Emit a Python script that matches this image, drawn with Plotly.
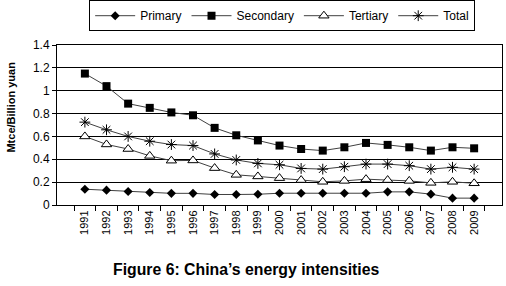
import plotly.graph_objects as go

years = [str(y) for y in range(1991, 2010)]
primary = [0.138, 0.130, 0.118, 0.110, 0.102, 0.102, 0.092, 0.092, 0.094, 0.103, 0.103, 0.103, 0.103, 0.103,
           0.115, 0.115, 0.095, 0.060, 0.060]
secondary = [1.15, 1.04, 0.887, 0.85, 0.81, 0.785, 0.675, 0.61, 0.565, 0.52, 0.49, 0.476, 0.505, 0.543,
             0.526, 0.505, 0.476, 0.505, 0.496]
tertiary = [0.60, 0.53, 0.49, 0.43, 0.388, 0.39, 0.323, 0.264, 0.25, 0.235, 0.218, 0.203, 0.211, 0.226,
            0.218, 0.211, 0.194, 0.203, 0.19]
total = [0.725, 0.658, 0.60, 0.558, 0.529, 0.52, 0.447, 0.394, 0.364, 0.352, 0.32, 0.314, 0.335, 0.358,
         0.358, 0.344, 0.314, 0.33, 0.314]

fig = go.Figure()
line = dict(color="#404040", width=1)
fig.add_trace(go.Scatter(x=years, y=primary, name="Primary", mode="lines+markers", line=line,
                         marker=dict(symbol="diamond", size=7, color="black")))
fig.add_trace(go.Scatter(x=years, y=secondary, name="Secondary", mode="lines+markers", line=line,
                         marker=dict(symbol="square", size=8, color="black")))
fig.add_trace(go.Scatter(x=years, y=tertiary, name="Tertiary", mode="lines+markers", line=line,
                         marker=dict(symbol="triangle-up", size=9, color="white",
                                     line=dict(color="black", width=1))))
fig.add_trace(go.Scatter(x=years, y=total, name="Total", mode="lines+markers", line=line,
                         marker=dict(symbol="asterisk-open", size=9, color="black",
                                     line=dict(color="black", width=1))))

fig.update_layout(
    width=506, height=286,
    margin=dict(l=57, r=4, t=45, b=81, autoexpand=False),
    paper_bgcolor="white", plot_bgcolor="white",
    font=dict(family="Liberation Sans, Arial, sans-serif", size=11, color="black"),
    showlegend=True,
    legend=dict(orientation="h", x=0.506, xanchor="center", y=1.28, yanchor="top",
                bordercolor="black", borderwidth=1, font=dict(size=12),
                tracegroupgap=0, itemwidth=40),
    xaxis=dict(type="category", tickson="boundaries", ticks="outside", ticklen=5,
               tickcolor="black", showline=True, linecolor="black", linewidth=1,
               mirror=True, tickangle=-90, showgrid=False, tickfont=dict(size=11)),
    yaxis=dict(range=[0, 1.4], tickvals=[0, 0.2, 0.4, 0.6, 0.8, 1.0, 1.2, 1.4],
               ticktext=["0", "0.2", "0.4", "0.6", "0.8", "1", "1.2", "1.4"],
               ticks="outside", ticklen=4, tickcolor="black",
               showline=True, linecolor="black", linewidth=1, mirror=True,
               showgrid=True, gridcolor="black", gridwidth=1, zeroline=False,
               tickfont=dict(size=12)),
    annotations=[
        dict(text="<b>Mtce/Billion yuan</b>", xref="paper", yref="paper", x=-0.103, y=0.61,
             textangle=-90, showarrow=False, font=dict(size=11), xanchor="center", yanchor="middle"),
        dict(text="<b>Figure 6: China\u2019s energy intensities</b>", xref="paper", yref="paper",
             x=0.425, y=-0.406, showarrow=False,
             font=dict(size=15.8), xanchor="center", yanchor="middle"),
    ],
)

fig.write_html("out.html", config={"displayModeBar": False},
               post_script="document.body.style.margin='0';document.body.style.overflow='hidden';")
